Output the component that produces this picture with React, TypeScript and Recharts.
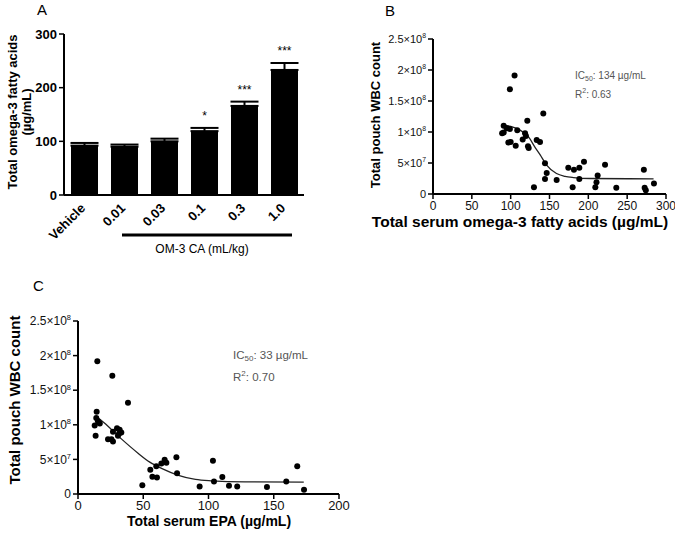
import React from "react";
import {
  BarChart,
  Bar,
  XAxis,
  YAxis,
  ErrorBar,
  ComposedChart,
  Scatter,
  Line,
} from "recharts";

const FONT = "'Liberation Sans', Arial, sans-serif";

// Panel A: total omega-3 by dose
const doseLabels = ["Vehicle", "0.01", "0.03", "0.1", "0.3", "1.0"];
const omega3Means = [92, 90, 100, 119, 166, 233];
const omega3Sem = [5, 4, 5, 6, 8, 13];
const significance = ["", "", "", "*", "***", "***"];
const aTicks = [0, 100, 200, 300];

// Panel B: WBC (x10^7) vs total serum omega-3
const bOmega3 = [89, 91, 91, 95, 97, 99, 100, 99, 105, 106.5, 108.5, 115.5, 118.5, 119.7, 121.4, 122.3, 123.2, 130, 133.5, 137.8, 142, 144.2, 146.4, 144.2, 159.2, 174.2, 179.8, 181.5, 188.4, 188.4, 194.4, 209, 210.5, 212, 221.5, 236, 271.5, 272.5, 274, 284.5];
const bWbc = [9.8, 9.9, 11.0, 10.6, 8.3, 10.5, 8.4, 16.9, 19.1, 7.8, 10.3, 8.8, 9.8, 9.35, 11.8, 7.7, 7.4, 1.1, 8.7, 8.4, 13.0, 4.95, 3.4, 2.4, 2.25, 4.25, 1.1, 3.9, 4.25, 2.4, 5.2, 1.1, 1.9, 3.0, 4.7, 1.0, 3.9, 1.0, 0.6, 1.7];
const bFitX = [90, 100, 112, 123, 131, 138, 146, 159, 170, 181, 202, 284];
const bFitY = [11.1, 10.9, 10.3, 9.2, 7.6, 6.3, 4.7, 3.3, 2.85, 2.65, 2.5, 2.45];
const bXTicks = [0, 50, 100, 150, 200, 250, 300];

// Panel C: WBC (x10^7) vs total serum EPA
const cEpa = [14.8, 26.3, 38.3, 14.3, 14.0, 12.8, 16.7, 13.5, 15.3, 23, 25.6, 26.8, 26.8, 29.9, 30.6, 31.9, 33.2, 31.4, 49.3, 55.4, 57, 60.5, 60, 63.9, 66.4, 67.7, 75.4, 75.9, 93.2, 103.4, 104.2, 110.6, 115.7, 122, 144.8, 159.6, 168, 173.2];
const cWbc = [19.2, 17.1, 13.2, 11.9, 11.0, 9.9, 10.2, 8.4, 10.5, 7.9, 7.9, 7.6, 9.0, 9.5, 8.4, 9.3, 8.9, 8.7, 1.25, 3.5, 2.5, 2.4, 4.0, 4.4, 4.95, 4.5, 5.3, 3.0, 1.1, 4.8, 1.8, 2.45, 1.2, 1.1, 1.0, 1.8, 4.0, 0.6];
const cFitX = [14, 20, 33, 46, 55, 64, 77, 90, 102, 128, 173];
const cFitY = [11.2, 10.3, 8.0, 5.9, 4.6, 3.7, 2.7, 2.1, 1.9, 1.75, 1.73];
const cXTicks = [0, 50, 100, 150, 200];

// shared WBC axis, values in units of 10^7
const wbcTicks = [0, 5, 10, 15, 20, 25];
const wbcTickLabels = ["0", "5×10^7", "1×10^8", "1.5×10^8", "2×10^8", "2.5×10^8"];

const barData = doseLabels.map((dose, i) => ({
  dose,
  mean: omega3Means[i],
  err: [0, omega3Sem[i]],
}));
const bPoints = bOmega3.map((x, i) => ({ x, y: bWbc[i] }));
const bFit = bFitX.map((x, i) => ({ x, y: bFitY[i] }));
const cPoints = cEpa.map((x, i) => ({ x, y: cWbc[i] }));
const cFit = cFitX.map((x, i) => ({ x, y: cFitY[i] }));

const axisLine = { stroke: "#000", strokeWidth: 2 };
const tickLine = { stroke: "#000", strokeWidth: 1.5 };

const DoseTick = (props: any) => {
  const { x, y, payload } = props;
  const tx = x + 2;
  const ty = y + 6;
  return (
    <text
      x={tx}
      y={ty}
      transform={`rotate(-45 ${tx} ${ty})`}
      textAnchor="end"
      fontSize={13}
      fontWeight="bold"
      fontFamily={FONT}
      fill="#000"
    >
      {payload.value}
    </text>
  );
};

const makeSciTick = (fontSize: number) => (props: any) => {
  const { x, y, payload } = props;
  const idx = wbcTicks.indexOf(payload.value);
  const [base, exp] = (wbcTickLabels[idx] ?? String(payload.value)).split("^");
  return (
    <text
      x={x}
      y={y + fontSize * 0.35}
      textAnchor="end"
      fontSize={fontSize}
      fontFamily={FONT}
      fill="#111"
    >
      {base}
      {exp && (
        <tspan dy={-fontSize * 0.4} fontSize={fontSize * 0.62}>
          {exp}
        </tspan>
      )}
    </text>
  );
};

const renderSig = (props: any) => {
  const { x, y, width, height, value, index } = props;
  const mark = significance[index];
  if (!mark || !value) return null;
  const pxPerUnit = height / value;
  const top = y - omega3Sem[index] * pxPerUnit;
  return (
    <text
      x={x + width / 2}
      y={top - 8}
      textAnchor="middle"
      fontSize={12}
      fontFamily={FONT}
      fill="#000"
    >
      {mark}
    </text>
  );
};

const dot = (props: any) => (
  <circle cx={props.cx} cy={props.cy} r={3} fill="#000" />
);

export default function App() {
  return (
    <div
      style={{
        position: "absolute",
        left: 0,
        top: 0,
        width: 675,
        height: 540,
        background: "#fff",
        fontFamily: FONT,
      }}
    >
      <div style={{ position: "absolute", left: 0, top: 0 }}>
        <BarChart
          width={320}
          height={260}
          data={barData}
          margin={{ top: 34, right: 16, bottom: 0, left: 0 }}
        >
          <XAxis
            dataKey="dose"
            height={65}
            interval={0}
            tickLine={false}
            axisLine={axisLine}
            tick={<DoseTick />}
          />
          <YAxis
            width={64}
            domain={[0, 300]}
            ticks={aTicks}
            tickSize={5}
            tickLine={tickLine}
            axisLine={axisLine}
            tick={{ fontSize: 13, fontWeight: "bold", fill: "#000", fontFamily: FONT }}
          />
          <Bar
            dataKey="mean"
            fill="#000"
            barSize={27}
            isAnimationActive={false}
            label={renderSig}
          >
            <ErrorBar dataKey="err" width={14} strokeWidth={2} stroke="#000" direction="y" />
          </Bar>
        </BarChart>
      </div>

      <div style={{ position: "absolute", left: 330, top: 0 }}>
        <ComposedChart width={345} height={240} margin={{ top: 39, right: 9, bottom: 0, left: 0 }}>
          <XAxis
            type="number"
            dataKey="x"
            domain={[0, 300]}
            ticks={bXTicks}
            height={46}
            tickSize={5}
            tickLine={tickLine}
            axisLine={axisLine}
            tick={{ fontSize: 12, fill: "#111", fontFamily: FONT }}
          />
          <YAxis
            type="number"
            dataKey="y"
            domain={[0, 25]}
            ticks={wbcTicks}
            width={103}
            tickSize={5}
            tickLine={tickLine}
            axisLine={axisLine}
            tick={makeSciTick(11)}
          />
          <Scatter data={bPoints} fill="#000" shape={dot} isAnimationActive={false} />
          <Line
            data={bFit}
            dataKey="y"
            type="monotone"
            stroke="#222"
            strokeWidth={1.3}
            dot={false}
            isAnimationActive={false}
          />
        </ComposedChart>
      </div>

      <div style={{ position: "absolute", left: 0, top: 300 }}>
        <ComposedChart width={360} height={240} margin={{ top: 21, right: 21, bottom: 0, left: 0 }}>
          <XAxis
            type="number"
            dataKey="x"
            domain={[0, 200]}
            ticks={cXTicks}
            height={46}
            tickSize={5}
            tickLine={tickLine}
            axisLine={axisLine}
            tick={{ fontSize: 13, fill: "#111", fontFamily: FONT }}
          />
          <YAxis
            type="number"
            dataKey="y"
            domain={[0, 25]}
            ticks={wbcTicks}
            width={78}
            tickSize={5}
            tickLine={tickLine}
            axisLine={axisLine}
            tick={makeSciTick(12)}
          />
          <Scatter data={cPoints} fill="#000" shape={dot} isAnimationActive={false} />
          <Line
            data={cFit}
            dataKey="y"
            type="monotone"
            stroke="#222"
            strokeWidth={1.3}
            dot={false}
            isAnimationActive={false}
          />
        </ComposedChart>
      </div>

      <svg
        width={675}
        height={540}
        style={{ position: "absolute", left: 0, top: 0, pointerEvents: "none" }}
        fontFamily={FONT}
      >
        {/* panel letters */}
        <text x={37} y={15} fontSize={15}>A</text>
        <text x={385} y={16} fontSize={15}>B</text>
        <text x={33} y={291} fontSize={15}>C</text>

        {/* panel A titles */}
        <text transform="translate(12,112) rotate(-90)" textAnchor="middle" dominantBaseline="central" fontSize={13} fontWeight="bold">
          Total omega-3 fatty acids
        </text>
        <text transform="translate(26,112) rotate(-90)" textAnchor="middle" dominantBaseline="central" fontSize={13} fontWeight="bold">
          (µg/mL)
        </text>
        <line x1={122} x2={292} y1={235} y2={235} stroke="#000" strokeWidth={3} />
        <text x={202} y={249} textAnchor="middle" dominantBaseline="central" fontSize={12}>
          OM-3 CA (mL/kg)
        </text>

        {/* panel B titles */}
        <text transform="translate(375,115) rotate(-90)" textAnchor="middle" dominantBaseline="central" fontSize={13} fontWeight="bold">
          Total pouch WBC count
        </text>
        <text x={520} y={221} textAnchor="middle" dominantBaseline="central" fontSize={15.5} fontWeight="bold">
          Total serum omega-3 fatty acids (µg/mL)
        </text>
        <text x={575} y={75} fontSize={10} fill="#555" dominantBaseline="central">
          IC<tspan fontSize={7} dy={3}>50</tspan>
          <tspan dy={-3}>: 134 µg/mL</tspan>
        </text>
        <text x={575} y={94} fontSize={10} fill="#555" dominantBaseline="central">
          R<tspan fontSize={7} dy={-4}>2</tspan>
          <tspan dy={4}>: 0.63</tspan>
        </text>

        {/* panel C titles */}
        <text transform="translate(14,400) rotate(-90)" textAnchor="middle" dominantBaseline="central" fontSize={15} fontWeight="bold">
          Total pouch WBC count
        </text>
        <text x={209} y={521} textAnchor="middle" dominantBaseline="central" fontSize={14} fontWeight="bold">
          Total serum EPA (µg/mL)
        </text>
        <text x={233} y={355} fontSize={11.5} fill="#555" dominantBaseline="central">
          IC<tspan fontSize={8} dy={3}>50</tspan>
          <tspan dy={-3}>: 33 µg/mL</tspan>
        </text>
        <text x={233} y={377} fontSize={11.5} fill="#555" dominantBaseline="central">
          R<tspan fontSize={8} dy={-4}>2</tspan>
          <tspan dy={4}>: 0.70</tspan>
        </text>
      </svg>
    </div>
  );
}
